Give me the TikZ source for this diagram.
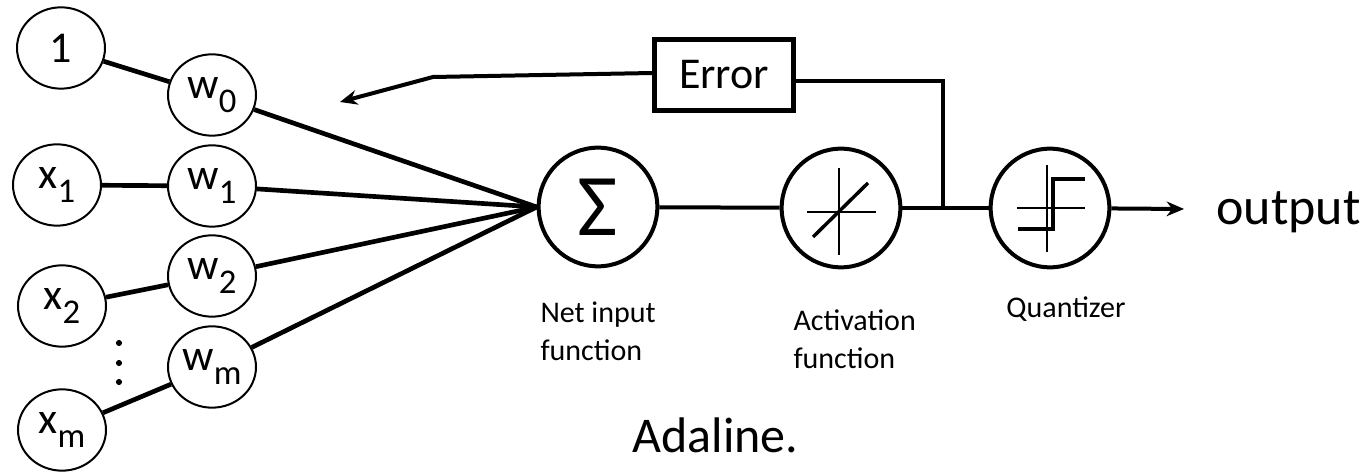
\documentclass[tikz,border=0pt]{standalone}
\usepackage{fontspec}
\setmainfont{Carlito}
\usetikzlibrary{shapes.geometric,arrows.meta}
\newcommand\lowidx[1]{\raisebox{-10.5pt}{\fontsize{26}{26}\selectfont #1}}
\tikzset{every picture/.style={line width=0.75pt}}
\tikzset{
  inputnode/.style={ellipse, draw, line width=1.5pt, minimum width=66pt, minimum height=61pt, inner sep=0pt, font=\fontsize{33}{36}\selectfont},
  funcnode/.style={circle, draw, line width=3pt, minimum size=89pt, inner sep=0pt},
  errbox/.style={rectangle, draw, line width=3.5pt, minimum width=104pt, minimum height=53pt, inner sep=0pt, font=\fontsize{33}{36}\selectfont},
  caption/.style={font=\fontsize{22.5}{28.5}\selectfont, inner sep=0pt, align=left},
  wire/.style={line width=3.5pt},
  arrowhd/.style={-{Stealth[length=13pt,width=11pt]}}
}

\begin{document}
\begin{tikzpicture}[x=0.75pt,y=0.75pt,yscale=-1,xscale=1]
\useasboundingbox (0,0) rectangle (1365,473);

%Shape: Ellipse - inputs
\node [inputnode] (one) at (61,48) {1};
\node [inputnode] (x1) at (57,185) {x\lowidx{1}};
\node [inputnode] (x2) at (62,306) {x\lowidx{2}};
\node [inputnode] (xm) at (62,430) {x\lowidx{m}};
%Shape: Ellipse - weights
\node [inputnode] (w0) at (212,95) {w\lowidx{0}};
\node [inputnode] (w1) at (212,186) {w\lowidx{1}};
\node [inputnode] (w2) at (212,276) {w\lowidx{2}};
\node [inputnode] (wm) at (212,367) {w\lowidx{m}};
%Shape: Circle - vertical dots
\fill (119,343) circle (2.3pt) (119,363) circle (2.3pt) (119,382) circle (2.3pt);

%Shape: Circle - net input, activation, quantizer
\node [funcnode, font=\fontsize{66}{66}\selectfont] (sig) at (598,207) {\raisebox{-3pt}{Σ}};
\node [funcnode] (act) at (841,208) {};
\node [funcnode] (quant) at (1050,208) {};

%Activation glyph
\draw [line width=1.5pt] (839,168) -- (839,255) (807,212) -- (876,212);
\draw [line width=2.6pt] (813,237) -- (868,183);
%Quantizer glyph
\draw [line width=1.5pt] (1047,165) -- (1047,252) (1017,208) -- (1085,208);
\draw [line width=3pt] (1018,229) -- (1053,229) -- (1053,179) -- (1085,179);

%Shape: Rectangle
\node [errbox] (err) at (724,75) {Error};

%Straight Lines
\draw [wire] (one) -- (w0);
\draw [wire] (x1) -- (w1);
\draw [wire] (x2) -- (w2);
\draw [wire] (xm) -- (wm);
\foreach \w in {w0,w1,w2,wm}
  \draw [wire] (\w) -- (sig.west);
\draw [line width=3pt] (sig) -- (act);
\coordinate (jn) at (943,208);
\draw [line width=3pt] (act) -- (quant);
\draw [line width=3pt] (jn) |- ([yshift=4.5pt]err.east);
\coordinate (fbbend) at (433,77);
\coordinate (fbtip) at (340,102);
\draw [line width=3pt, arrowhd] ([yshift=-1.5pt]err.west) -- (fbbend) -- (fbtip);
\coordinate (otip) at (1184,209);
\draw [line width=3pt, arrowhd] (quant) -- (otip);

% Text Node
\node [anchor=base west, inner sep=0pt, font=\fontsize{39}{42}\selectfont] (out) at (1216,225) {output};
% Text Node
\node [caption, anchor=north west] (netlbl) at (540,301) {Net input\\function};
% Text Node
\node [caption, anchor=north west] (actlbl) at (793,309) {Activation\\function};
% Text Node
\node [caption, anchor=base] (qlbl) at (1066,318) {Quantizer};
% Text Node
\node [anchor=base west, inner sep=0pt, font=\fontsize{37.5}{40}\selectfont] (title) at (632,453) {Adaline.};

\end{tikzpicture}
\end{document}
